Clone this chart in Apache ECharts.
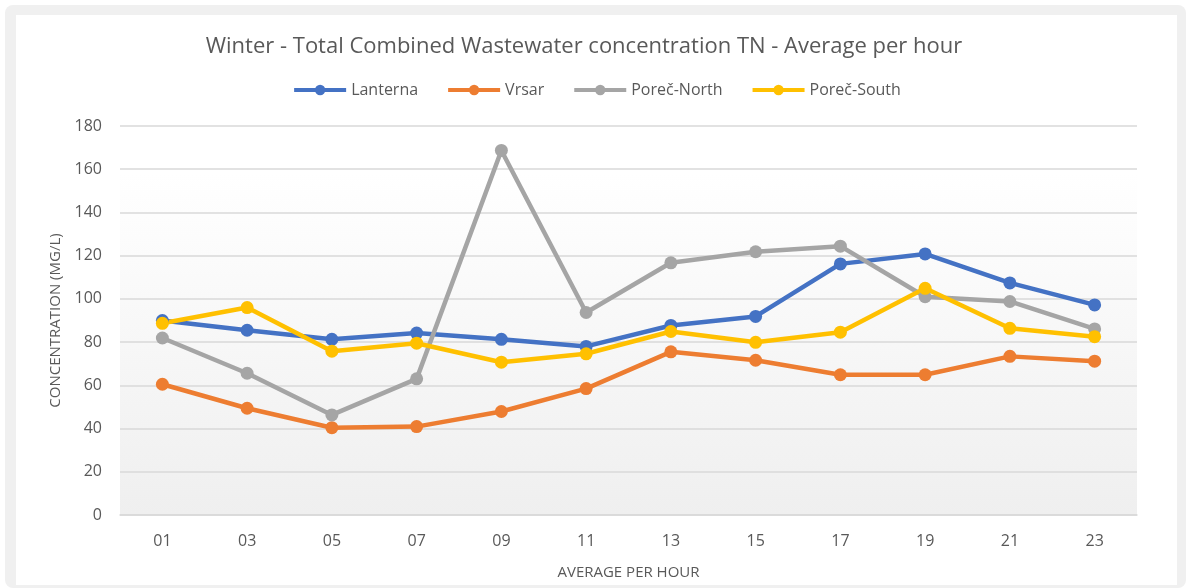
<!DOCTYPE html>
<html>
<head>
<meta charset="utf-8">
<title>Winter TN concentration</title>
<script src="https://cdn.jsdelivr.net/npm/echarts@6/dist/echarts.min.js"></script>
<style>
  html, body { margin: 0; padding: 0; background: #fff; }
  .frame {
    position: absolute;
    left: 5px;
    top: 5px;
    width: 1181px;
    height: 583px;
    background: #f0f0f0;
    border-radius: 8px;
  }
  #chart {
    position: absolute;
    left: 16px;
    top: 15px;
    width: 1161px;
    height: 570px;
    background: #fff;
  }
</style>
</head>
<body>
<div class="frame"></div>
<div id="chart"></div>
<script>
const hours = ['01', '03', '05', '07', '09', '11', '13', '15', '17', '19', '21', '23']
const lanterna = [90, 85.5, 81.3, 84.2, 81.3, 78, 87.7, 91.9, 116.2, 120.8, 107.4, 97.2]
const vrsar = [60.5, 49.4, 40.4, 40.9, 47.9, 58.5, 75.5, 71.6, 64.9, 64.9, 73.4, 71.2]
const porecNorth = [81.9, 65.6, 46.3, 63, 168.7, 93.7, 116.7, 121.8, 124.4, 101, 98.8, 86.1]
const porecSouth = [88.7, 96, 75.8, 79.5, 70.7, 74.6, 84.9, 79.9, 84.6, 104.9, 86.4, 82.5]

const chart = echarts.init(document.getElementById('chart'))

const textColor = '#595959'
const font = 'Open Sans'

function line(name, data, color) {
  return {
    name: name,
    type: 'line',
    data: data,
    symbol: 'circle',
    symbolSize: 13,
    lineStyle: { color: color, width: 4.5 },
    itemStyle: { color: color },
    emphasis: { disabled: true }
  }
}

chart.setOption({
  animation: false,
  color: ['#4472c4', '#ed7d31', '#a5a5a5', '#ffc000'],
  title: {
    text: 'Winter - Total Combined Wastewater concentration TN - Average per hour',
    left: 563,
    textAlign: 'center',
    top: 16,
    textStyle: {
      fontFamily: font,
      fontSize: 22,
      fontWeight: 'normal',
      color: textColor
    }
  },
  legend: {
    top: 62,
    left: 'center',
    itemWidth: 52,
    itemHeight: 13,
    itemGap: 28,
    lineStyle: { width: 4 },
    textStyle: { fontFamily: font, fontSize: 16, color: textColor }
  },
  grid: {
    left: 104,
    right: 40,
    top: 111,
    bottom: 70,
    outerBoundsMode: 'none',
    show: true,
    borderWidth: 0,
    backgroundColor: {
      type: 'linear', x: 0, y: 0, x2: 0, y2: 1,
      colorStops: [
        { offset: 0, color: '#ffffff' },
        { offset: 0.12, color: '#ffffff' },
        { offset: 1, color: '#efefef' }
      ]
    }
  },
  xAxis: {
    type: 'category',
    data: hours,
    name: 'AVERAGE PER HOUR',
    nameLocation: 'middle',
    nameGap: 50,
    nameTextStyle: { fontFamily: font, fontSize: 15, color: textColor },
    axisLine: { show: true, lineStyle: { color: '#d9d9d9', width: 1.5 } },
    axisTick: { show: false },
    axisLabel: { fontFamily: font, fontSize: 16, color: textColor, margin: 18 }
  },
  yAxis: {
    type: 'value',
    min: 0,
    max: 180,
    interval: 20,
    name: 'CONCENTRATION (MG/L)',
    nameLocation: 'middle',
    nameGap: 56,
    nameTextStyle: { fontFamily: font, fontSize: 15, color: textColor },
    axisLine: { show: false },
    axisTick: { show: false },
    axisLabel: { fontFamily: font, fontSize: 16, color: textColor, margin: 18 },
    splitLine: { lineStyle: { color: '#d9d9d9', width: 1.5 } }
  },
  series: [
    line('Lanterna', lanterna, '#4472c4'),
    line('Vrsar', vrsar, '#ed7d31'),
    line('Poreč-North', porecNorth, '#a5a5a5'),
    line('Poreč-South', porecSouth, '#ffc000')
  ]
})
</script>
</body>
</html>
